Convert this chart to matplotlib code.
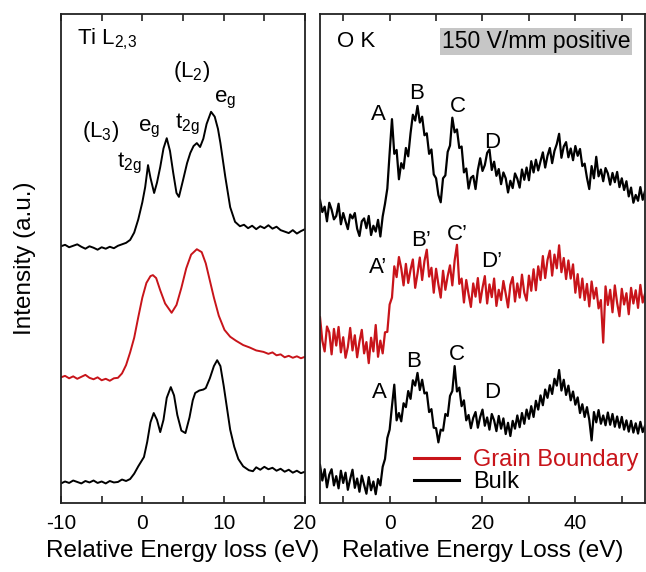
import matplotlib
matplotlib.use('Agg')
import matplotlib.pyplot as plt
import numpy as np

plt.rcParams['font.family'] = ['Liberation Sans', 'DejaVu Sans']
plt.rcParams['mathtext.default'] = 'regular'
plt.rcParams['axes.unicode_minus'] = False

RED = '#c8141a'

# ---- Ti L2,3 edge (left panel), intensity in arbitrary units ----
ti_bulk_top_x = [-10, -9.5, -9, -8.5, -8, -7.5, -7, -6.5, -6, -5.5, -5, -4.5, -4, -3.5, -3, -2.5, -2, -1.5, -1, -0.5,
                 0, 0.35, 0.7, 1.0, 1.45, 1.8, 2.2, 2.6, 3.0, 3.4, 3.8, 4.2, 4.5,
                 5.0, 5.5, 5.9, 6.3, 6.7, 7.1, 7.5, 7.9, 8.45, 8.9, 9.3, 9.6,
                 10.2, 10.8, 11.4, 12.0,
                 12.5, 13, 13.5, 14, 14.5, 15, 15.5, 16, 16.5, 17, 17.5, 18, 18.5, 19, 19.5, 20]
ti_bulk_top_y = [52.5, 52.8, 52.3, 52.6, 52.9, 52.4, 52.0, 52.5, 52.2, 51.8, 52.3, 52.0, 52.4, 52.1, 52.6, 52.9, 53.2, 53.8, 55.3, 58.0,
                 61.5, 64.6, 69.1, 66.5, 63.4, 65.5, 68.7, 72.5, 74.6, 72.0, 67.5, 63.4, 62.6,
                 66.0, 69.5, 71.6, 73.0, 73.6, 72.8, 74.5, 77.5, 80.0, 79.0, 76.5, 73.6,
                 66.7, 60.5, 57.5, 56.6,
                 56.9, 56.2, 56.7, 56.0, 56.6, 56.2, 56.8, 56.1, 56.5, 55.8, 55.5, 55.2, 55.8, 55.1, 55.6, 56.0]

ti_gb_x = [-10, -9.5, -9, -8.5, -8, -7.5, -7, -6.5, -6, -5.5, -5, -4.5, -4, -3.5, -3,
           -2.5, -2, -1.5, -1, -0.5, 0, 0.5, 1.0, 1.3, 1.7,
           2.2, 2.8, 3.6, 4.2, 4.8, 5.4, 6.0, 6.7, 7.3, 7.8,
           8.3, 8.8, 9.4, 10.1, 10.8, 11.5, 12.4, 13.2, 14, 14.9,
           15.5, 16, 16.5, 17, 17.5, 18, 18.5, 19, 19.5, 20]
ti_gb_y = [25.7, 26.0, 25.5, 25.9, 25.4, 25.8, 26.2, 25.6, 25.3, 25.7, 25.1, 25.4, 25.0, 25.5, 25.6,
           26.5, 28.2, 30.8, 33.8, 38.0, 42.0, 45.0, 46.4, 46.6, 46.0,
           43.5, 40.8, 38.9, 40.5, 44.0, 48.0, 50.8, 51.9, 51.3, 49.0,
           45.5, 42.0, 38.3, 35.4, 34.0, 33.2, 32.3, 31.8, 31.2, 30.9,
           30.5, 30.8, 30.2, 30.4, 29.8, 30.1, 29.7, 30.0, 29.6, 29.9]

ti_bulk_bot_x = [-10, -9.5, -9, -8.5, -8, -7.5, -7, -6.5, -6, -5.5, -5, -4.5, -4, -3.5, -3, -2.5, -2, -1.5, -1,
                 -0.5, 0.2, 0.6, 1.0, 1.4, 1.8, 2.2, 2.6, 3.0, 3.5,
                 3.9, 4.3, 4.8, 5.3, 5.8, 6.2, 6.5, 7.0, 7.5, 7.8,
                 8.3, 8.8, 9.2, 9.6, 10.0, 10.4, 10.8, 11.3, 11.8, 12.4,
                 13.1, 13.6, 14, 14.5, 15, 15.5, 16, 16.5, 17, 17.5,
                 18, 18.5, 19, 19.5, 20]
ti_bulk_bot_y = [4.0, 4.4, 4.1, 4.6, 4.3, 4.0, 4.5, 4.2, 4.6, 4.1, 4.4, 4.0, 4.5, 4.2, 4.3, 4.8, 4.5, 4.9, 6.0,
                 7.5, 9.4, 12.5, 16.5, 18.4, 17.0, 14.5, 17.0, 21.5, 23.7,
                 22.0, 18.0, 14.8, 14.3, 17.5, 21.0, 22.5, 23.0, 23.2, 23.5,
                 25.5, 28.0, 29.2, 28.0, 24.0, 19.5, 15.0, 11.5, 9.0, 7.5,
                 6.7, 6.5, 7.3, 6.8, 7.4, 6.9, 7.2, 6.6, 7.0, 6.4,
                 6.8, 6.2, 6.6, 6.1, 6.4]

# ---- O K edge (right panel), sampled every 0.5 eV from -15 to 55 eV ----
ok_bulk_top = [62.0, 59.5, 60.6, 57.6, 61.4, 60.0, 58.0, 58.7, 61.2, 57.0,
               59.3, 57.6, 56.0, 59.0, 58.2, 59.3, 56.1, 54.6, 57.6, 58.2,
               56.2, 58.7, 54.8, 56.7, 55.5, 57.9, 54.5, 58.6, 61.2, 64.3,
               71.6, 78.5, 71.4, 72.2, 66.2, 69.5, 68.4, 72.6, 70.9, 75.6,
               79.4, 78.2, 81.2, 77.8, 79.0, 75.2, 75.6, 71.4, 72.3, 67.2,
               66.4, 63.0, 61.5, 66.4, 67.0, 71.8, 73.1, 78.8, 75.8, 76.4,
               72.6, 72.9, 67.6, 68.4, 64.3, 66.5, 66.9, 64.2, 68.1, 70.5,
               67.9, 69.1, 71.6, 72.3, 68.1, 69.8, 66.9, 68.3, 65.2, 67.6,
               66.4, 63.5, 65.9, 64.4, 67.4, 66.3, 64.5, 68.2, 66.1, 68.6,
               66.0, 69.9, 67.6, 70.2, 68.0, 69.9, 71.7, 68.6, 71.0, 72.6,
               69.5, 72.0, 73.4, 75.5, 70.6, 72.9, 73.8, 70.7, 72.5, 70.1,
               73.0, 71.0, 72.4, 68.9, 69.4, 66.5, 64.2, 68.9, 66.4, 70.8,
               66.8, 68.2, 65.8, 68.5, 67.4, 65.1, 67.5, 65.6, 67.7, 64.6,
               66.4, 64.0, 65.8, 62.7, 64.5, 61.4, 63.0, 61.8, 64.6, 62.0,
               63.8]

ok_gb = [38.0, 33.2, 31.0, 36.1, 34.9, 30.4, 35.6, 32.2, 36.0, 30.8,
         33.9, 29.7, 31.9, 35.8, 31.2, 34.3, 29.8, 33.0, 35.4, 30.6,
         32.9, 28.6, 33.8, 31.0, 36.4, 29.9, 33.2, 30.6, 34.9, 35.0,
         40.6, 42.0, 48.4, 46.2, 50.3, 48.0, 44.5, 48.9, 45.0, 47.7,
         49.8, 44.0, 46.9, 50.2, 45.6, 49.5, 51.8, 46.3, 48.1, 43.0,
         47.9, 44.7, 42.0, 47.5, 43.6, 46.4, 48.6, 44.5, 49.6, 52.8,
         44.8, 45.9, 41.0, 45.6, 42.7, 40.1, 44.9, 42.2, 46.0, 41.0,
         44.0, 46.4, 40.8, 44.7, 42.1, 45.9, 40.3, 43.6, 41.5, 45.4,
         42.8, 40.0, 44.6, 46.2, 41.2, 44.9, 42.0, 46.7, 43.0, 41.4,
         46.5, 43.4, 47.8, 43.5, 48.4, 45.6, 50.5, 46.0, 49.7, 51.6,
         46.5, 50.8, 48.0, 52.7, 47.2, 50.1, 45.8, 49.6, 45.9, 48.8,
         43.0, 46.8, 42.0, 45.9, 41.5, 44.8, 40.2, 45.3, 41.8, 44.0,
         39.8, 41.5, 32.8, 44.3, 40.5, 43.6, 39.0, 44.5, 40.9, 38.2,
         43.8, 40.6, 42.9, 38.6, 44.0, 40.8, 43.5, 39.9, 44.6, 41.0,
         42.8]

ok_bulk_bot = [7.8, 4.6, 6.9, 3.2, 5.8, 6.9, 3.6, 5.5, 3.0, 6.6,
               4.1, 6.2, 2.7, 4.9, 6.8, 3.1, 5.0, 2.3, 5.6, 3.7,
               1.9, 5.3, 2.6, 4.4, 1.8, 4.9, 3.6, 7.4, 9.0, 13.3,
               15.0, 19.8, 24.2, 16.9, 18.4, 16.7, 20.4, 19.6, 22.9, 21.3,
               25.1, 24.0, 26.6, 23.1, 25.2, 22.4, 22.6, 18.6, 19.2, 15.4,
               15.3, 12.4, 15.0, 14.8, 18.2, 17.8, 21.9, 22.9, 28.0, 22.8,
               23.6, 19.8, 21.0, 16.9, 18.0, 15.3, 17.4, 18.6, 15.4, 17.6,
               19.1, 15.8, 17.5, 15.0, 18.2, 16.9, 14.7, 17.8, 15.2, 17.3,
               14.1, 16.4, 13.7, 16.8, 15.2, 17.9, 15.5, 18.4, 16.2, 19.1,
               17.2, 19.8, 17.6, 20.9, 19.1, 22.0, 20.0, 23.2, 21.5, 24.1,
               22.3, 25.4, 24.0, 27.2, 23.0, 25.2, 22.1, 24.0, 21.0, 22.8,
               20.1, 21.6, 18.4, 20.2, 17.6, 19.6, 17.0, 12.8, 18.6, 16.5,
               19.0, 16.2, 17.9, 15.9, 18.5, 16.0, 18.2, 15.6, 17.7, 15.4,
               17.6, 15.0, 16.9, 14.6, 16.8, 14.4, 16.3, 14.2, 16.6, 14.5,
               15.8]

ti_labels = [('Ti L$_{2{,}3}$', -8.0, 93.7), ('(L$_2$)', 3.8, 87.1), ('e$_g$', 8.8, 82.0),
             ('(L$_3$)', -7.4, 74.8), ('e$_g$', -0.5, 75.9), ('t$_{2g}$', 4.0, 76.7),
             ('t$_{2g}$', -3.1, 68.7)]
ok_peaks = [('A', -2.4, 78.3), ('B', 5.7, 82.6), ('C', 14.7, 80.0), ('D', 22.0, 72.6),
            ('A\u2019', -2.6, 47.0), ('B\u2019', 6.8, 52.6), ('C\u2019', 14.5, 53.8), ('D\u2019', 22.0, 48.3),
            ('A', -2.2, 21.5), ('B', 5.1, 27.8), ('C', 14.4, 29.2), ('D', 22.0, 21.5)]

fig = plt.figure(figsize=(6.46, 5.72), dpi=100)
ax1 = fig.add_axes([61 / 646, 69 / 572, 244 / 646, 489 / 572])
ax2 = fig.add_axes([320 / 646, 69 / 572, 325 / 646, 489 / 572])

ax1.plot(ti_bulk_top_x, ti_bulk_top_y, color='black', lw=1.4)
ax1.plot(ti_gb_x, ti_gb_y, color=RED, lw=1.4)
ax1.plot(ti_bulk_bot_x, ti_bulk_bot_y, color='black', lw=1.4)

ax2.plot(np.linspace(-15, 55, len(ok_bulk_top)), ok_bulk_top, color='black', lw=1.6)
ax2.plot(np.linspace(-15, 55, len(ok_gb)), ok_gb, color=RED, lw=1.6, label='Grain Boundary')
ax2.plot(np.linspace(-15, 55, len(ok_bulk_bot)), ok_bulk_bot, color='black', lw=1.6, label='Bulk')

ax1.set_xlim(-10, 20)
ax2.set_xlim(-15, 55)
for ax in (ax1, ax2):
    ax.set_ylim(0, 100)
    ax.set_yticks([])
    for s in ax.spines.values():
        s.set_linewidth(1.3)
        s.set_color('#222222')
    ax.tick_params(axis='x', which='both', direction='in', top=True, length=5, width=1.2,
                   labelsize=15, pad=8, colors='#222222', labelcolor='black')

ax1.set_xticks([-10, 0, 10, 20])
ax1.set_xticks([-5, 5, 15], minor=True)
ax2.set_xticks([0, 20, 40])
ax2.set_xticks([-10, 10, 30, 50], minor=True)

ax1.set_xlabel('Relative Energy loss (eV)', fontsize=17.5, labelpad=5)
ax2.set_xlabel('Relative Energy Loss (eV)', fontsize=17.5, labelpad=5)
ax1.set_ylabel('Intensity (a.u.)', fontsize=17.5, labelpad=18)

for txt, x, y in ti_labels:
    ax1.text(x, y, txt, fontsize=16, ha='left', va='baseline')

ax2.text(-11.4, 93.3, 'O K', fontsize=16, ha='left', va='baseline')
ax2.text(11.2, 93.0, '150 V/mm positive', fontsize=16.5, ha='left', va='baseline',
         bbox=dict(facecolor='#c6c6c6', edgecolor='none', pad=1.5))
for txt, x, y in ok_peaks:
    ax2.text(x, y, txt, fontsize=16, ha='center', va='baseline')

leg = ax2.legend(loc='lower left', bbox_to_anchor=(0.29, 0.02), frameon=False, fontsize=17,
                 handlelength=1.9, handletextpad=0.6, labelspacing=0.0, borderpad=0, borderaxespad=0)
for line, text in zip(leg.get_lines(), leg.get_texts()):
    line.set_linewidth(2.2)
    text.set_color(line.get_color())

fig.savefig('out.png', dpi=100)
